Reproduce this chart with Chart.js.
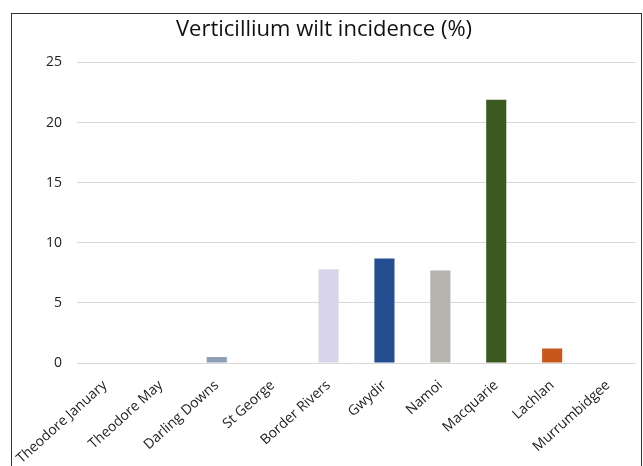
<!DOCTYPE html>
<html><head><meta charset="utf-8">
<script src="https://cdn.jsdelivr.net/npm/chart.js@4/dist/chart.umd.min.js"></script>
<style>
html,body{margin:0;padding:0;background:#fff;overflow:hidden;width:643px;height:466px}
#box{position:absolute;left:11px;top:13px;width:629px;height:470px;border:1px solid #333;background:#fff}
#wrap{position:absolute;left:0;top:0;width:629px;height:452px}
</style></head><body>
<div id="box"><div id="wrap"><canvas id="c"></canvas></div></div>
<script>
const categories = ["Theodore January","Theodore May","Darling Downs","St George","Border Rivers","Gwydir","Namoi","Macquarie","Lachlan","Murrumbidgee"];
const incidence = [0, 0, 0.5, 0, 7.8, 8.7, 7.7, 21.9, 1.2, 0];
const barColors = ["#8da0b8","#8da0b8","#8da0b8","#8da0b8","#d8d4ea","#244e91","#b7b3ae","#3a5a22","#c9561a","#8da0b8"];
const yTicks = [0,5,10,15,20,25];
const titleText = "Verticillium wilt incidence (%)";

new Chart(document.getElementById('c'), {
  type: 'bar',
  data: { labels: categories, datasets: [{ data: incidence, backgroundColor: barColors, categoryPercentage: 1, barPercentage: 0.36 }] },
  options: {
    responsive: true, maintainAspectRatio: false, animation: false,
    layout: { padding: { left: 0, right: 5, top: 0, bottom: 0 } },
    plugins: {
      legend: { display: false }, tooltip: { enabled: false },
      title: { display: true, text: titleText, color: '#111', font: { family: 'Open Sans', size: 22, weight: 'normal' }, padding: { top: 3, bottom: 19 } }
    },
    scales: {
      x: {
        grid: { display: false, drawTicks: false }, border: { display: false },
        ticks: { color: '#222', font: { family: 'Open Sans', size: 14 }, minRotation: 42, maxRotation: 42, autoSkip: false, padding: 14 },
        afterFit: (s) => { s.height = 103; s.paddingLeft = 0; s.paddingRight = 0; }
      },
      y: {
        min: 0, max: 25,
        afterBuildTicks: (s) => { s.ticks = yTicks.map(v => ({ value: v })); },
        grid: { color: '#d9d9d9', drawTicks: false }, border: { display: false },
        ticks: { color: '#222', font: { family: 'Open Sans', size: 14 }, padding: 15 },
        afterFit: (s) => { s.width = 65; }
      }
    }
  }
});
</script></body></html>
